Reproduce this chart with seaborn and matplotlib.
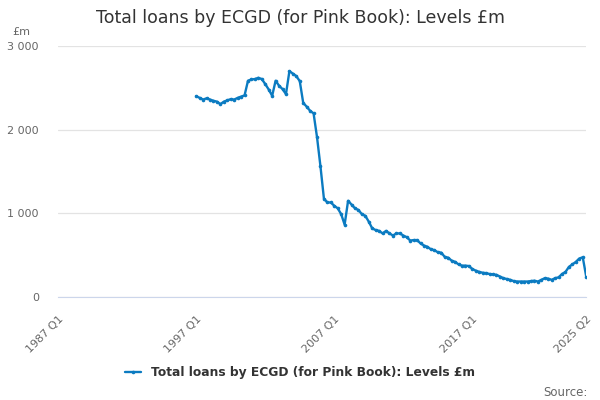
import matplotlib
matplotlib.use('Agg')
import matplotlib.pyplot as plt
import seaborn as sns
import pandas as pd

# quarterly levels, 1997 Q1 to 2025 Q2 (£m)
loans = [2400, 2380, 2360, 2375, 2360, 2345, 2335, 2305, 2335, 2350,
         2365, 2360, 2380, 2395, 2410, 2585, 2600, 2605, 2620, 2605,
         2545, 2480, 2405, 2585, 2525, 2485, 2425, 2700, 2670, 2640,
         2580, 2320, 2275, 2225, 2195, 1910, 1560, 1175, 1130, 1130,
         1090, 1060, 990, 865, 1150, 1105, 1060, 1040, 990, 970,
         900, 820, 800, 790, 760, 790, 760, 735, 760, 760,
         735, 715, 675, 680, 680, 640, 615, 600, 570, 560,
         535, 530, 480, 470, 435, 420, 390, 375, 375, 370,
         335, 315, 300, 290, 285, 275, 270, 265, 245, 225,
         215, 205, 190, 185, 185, 185, 185, 190, 195, 185,
         205, 225, 220, 205, 225, 235, 275, 300, 360, 390,
         420, 460, 475, 245]

all_quarters = [f'{y} Q{q}' for y in range(1987, 2026) for q in range(1, 5)][:154]
start = all_quarters.index('1997 Q1')
df = pd.DataFrame({'pos': range(start, start + len(loans)), 'value': loans})

tick_pos = list(range(0, 151, 10)) + [153]
tick_labels = ['1987 Q1', '1997 Q1', '2007 Q1', '2017 Q1', '2025 Q2']

blue = '#0b7bc1'
sns.set_style('white')
plt.rcParams['font.family'] = ['DejaVu Sans']

fig = plt.figure(figsize=(6, 4), dpi=100)
ax = fig.add_axes([0.097, 0.2575, 0.88, 0.6275])
sns.lineplot(data=df, x='pos', y='value', color=blue, lw=1.7, marker='o',
             markersize=2.6, markeredgewidth=0, ax=ax,
             label='Total loans by ECGD (for Pink Book): Levels £m')

ax.set_xlim(0, 153)
ax.set_ylim(0, 3000)
ax.set_yticks([0, 1000, 2000, 3000])
ax.set_yticklabels([f'{v:,}'.replace(',', ' ') for v in [0, 1000, 2000, 3000]])
ax.set_xticks(tick_pos)
ax.set_xticklabels([all_quarters[p] if all_quarters[p] in tick_labels else '' for p in tick_pos],
                   rotation=45, ha='right', rotation_mode='anchor')
ax.grid(axis='y', color='#e3e3e3', lw=0.9)
ax.set_axisbelow(True)
for s in ['top', 'right', 'left']:
    ax.spines[s].set_visible(False)
ax.spines['bottom'].set_color('#ccd6eb')
ax.tick_params(axis='x', colors='#ccd6eb', length=9, width=1, labelcolor='#666666', labelsize=8)
ax.tick_params(axis='y', length=0, labelcolor='#666666', labelsize=8, pad=14)
ax.set_xlabel('')
ax.set_ylabel('')

fig.text(0.5, 0.955, 'Total loans by ECGD (for Pink Book): Levels £m', ha='center', va='center',
         fontsize=12.5, color='#333333')
fig.text(0.02, 0.92, '£m', ha='left', va='center', fontsize=8, color='#666666')
fig.text(0.98, 0.02, 'Source:', ha='right', va='center', fontsize=8.5, color='#666666')

ax.legend(loc='center', bbox_to_anchor=(0.458, -0.30), frameon=False,
          handlelength=1.3, prop={'weight': 'bold', 'size': 8.8})
leg = ax.get_legend()
for t in leg.get_texts():
    t.set_color('#333333')

fig.savefig('out.png', dpi=100)
